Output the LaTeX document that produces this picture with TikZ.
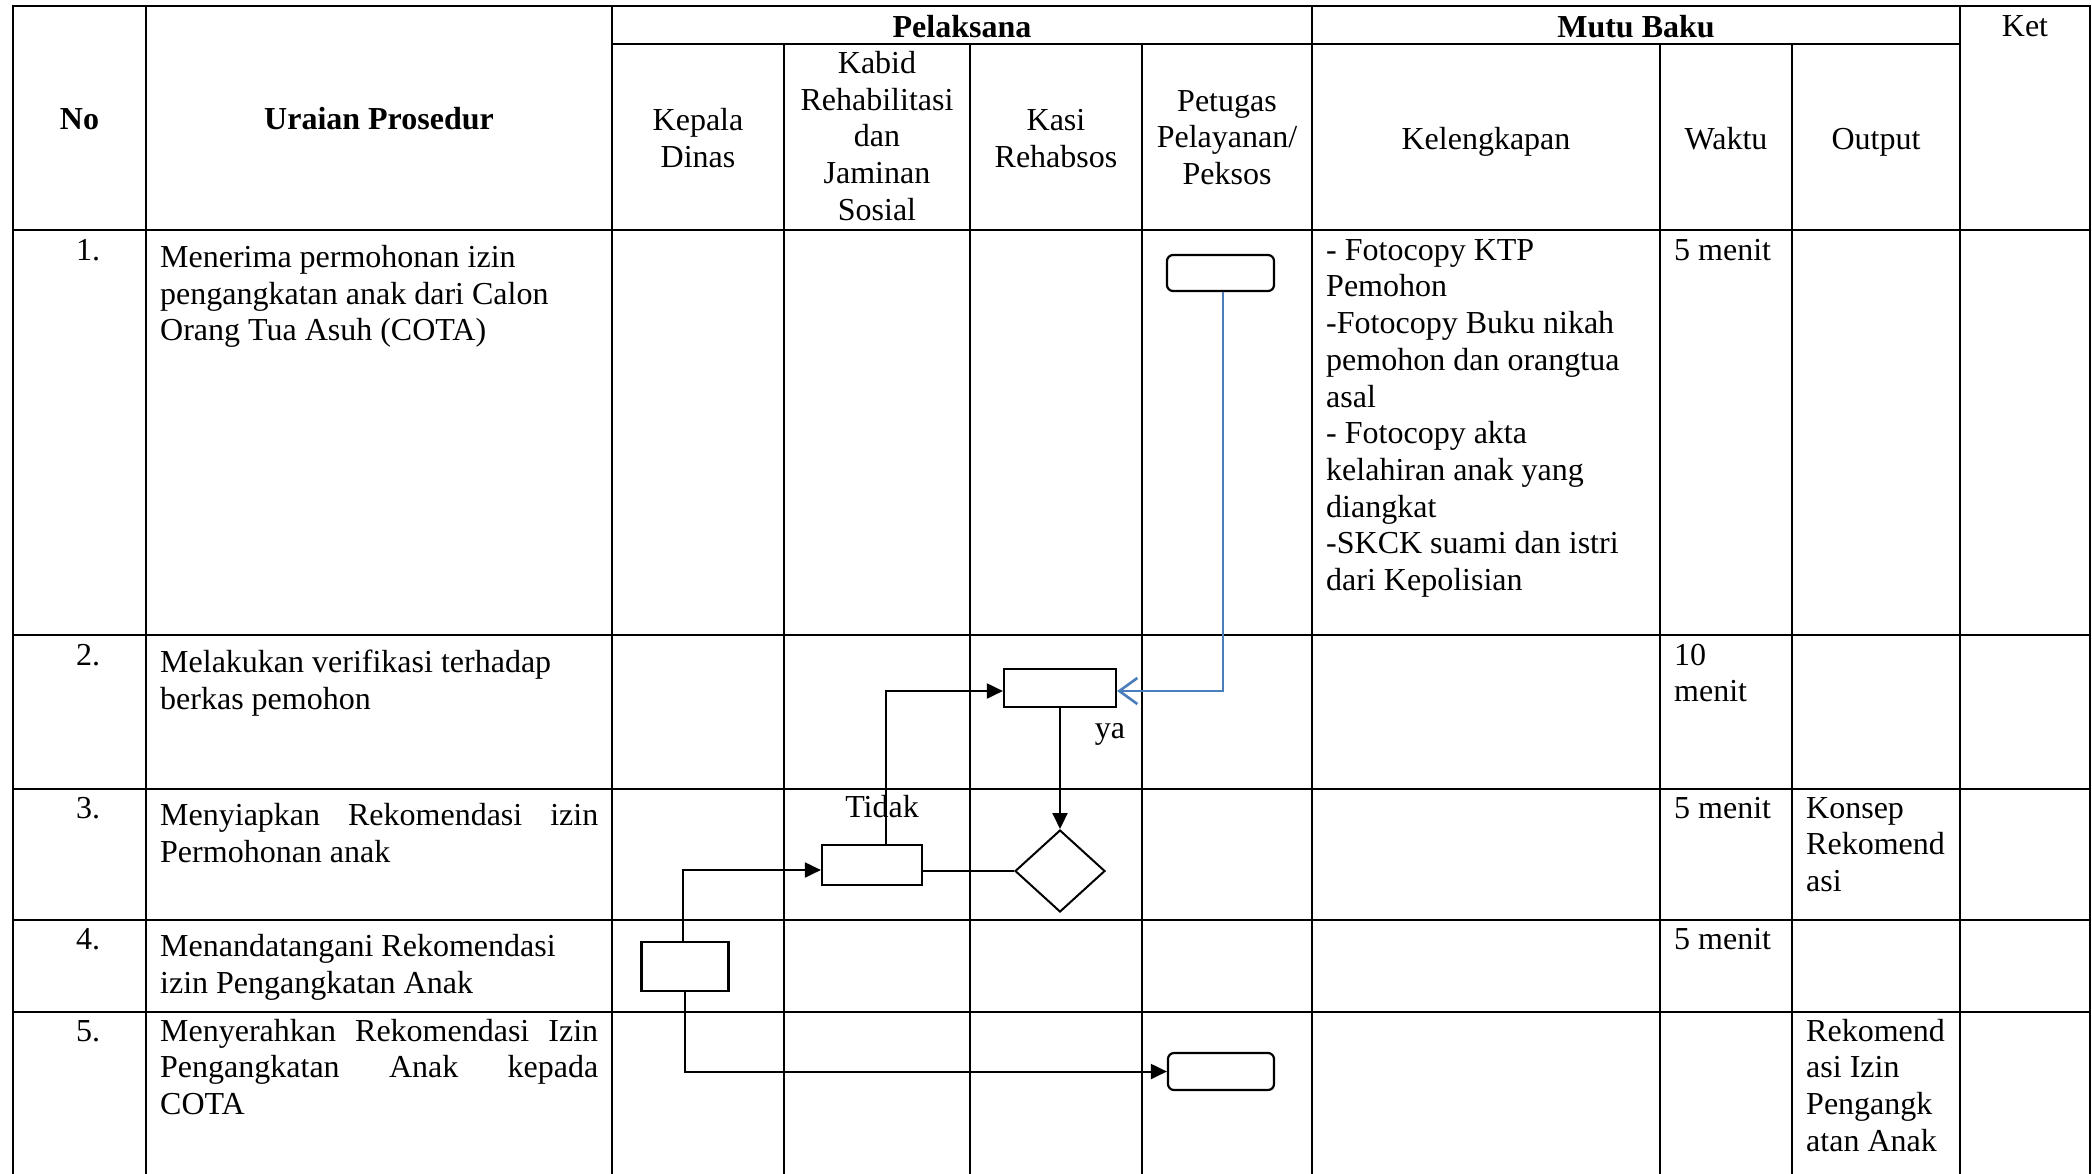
\documentclass[tikz,border=0pt]{standalone}
\usepackage{fontspec}
\setmainfont{Liberation Serif}
\usetikzlibrary{arrows.meta,shapes.geometric,calc}
\definecolor{flowblue}{HTML}{4A7EBB}
\begin{document}
\begin{tikzpicture}[x=1pt,y=-1pt,
  font=\fontsize{32}{36.7}\selectfont,
  grid/.style={line width=2.6pt, line cap=rect},
  hd/.style={inner sep=0pt, align=center},
  tx/.style={anchor=north west, inner sep=0pt, align=left},
  one/.style={anchor=base west, inner sep=0pt},
  lbl/.style={anchor=base, inner sep=0pt},
  procbox/.style={draw, line width=2.2pt, inner sep=0pt},
  rbox/.style={procbox, rounded corners=6pt},
  decbox/.style={draw, diamond, line width=2pt, inner sep=0pt},
  flow/.style={line width=2pt, -{Triangle[length=16pt,width=15pt]}},
  plainline/.style={line width=2pt},
  blueflow/.style={line width=2.6pt, draw=flowblue, -{Straight Barb[length=18pt,width=26pt]}}
]
\useasboundingbox (0,0) rectangle (2092,1173);
\fill[white] (0,0) rectangle (2092,1173);

% grid
\draw[grid] (13,6) -- (2090,6);
\draw[grid] (612,44) -- (1960,44);
\foreach \y in {230,635,789,920,1012} \draw[grid] (13,\y) -- (2090,\y);
\foreach \x in {13,146,612,1312,1960,2090} \draw[grid] (\x,6) -- (\x,1180);
\foreach \x in {784,970,1142,1660,1792} \draw[grid] (\x,44) -- (\x,1180);

% header
\node[hd] (hNo) at (79.5,122.5) {\strut\bfseries No};
\node[hd] (hUr) at (379,122.5) {\strut\bfseries Uraian Prosedur};
\node[lbl] (hPel) at (962,37) {\bfseries Pelaksana};
\node[lbl] (hMutu) at (1636,37) {\bfseries Mutu Baku};
\node[lbl] (hKet) at (2025,36) {Ket};
\node[hd] (hKep) at (698,142) {\strut Kepala\\Dinas\strut};
\node[hd] (hKab) at (877,139.5) {\strut Kabid\\Rehabilitasi\\dan\\Jaminan\\Sosial\strut};
\node[hd] (hKasi) at (1056,142) {\strut Kasi\\Rehabsos\strut};
\node[hd] (hPet) at (1227,140.5) {\strut Petugas\\Pelayanan/\\Peksos\strut};
\node[hd] (hKel) at (1486,142) {\strut Kelengkapan\strut};
\node[hd] (hWak) at (1726,142) {\strut Waktu\strut};
\node[hd] (hOut) at (1876,142) {\strut Output\strut};

% numbers
\node[one] (n1) at (76,260) {1.};
\node[one] (n2) at (76,665) {2.};
\node[one] (n3) at (76,818) {3.};
\node[one] (n4) at (76,949) {4.};
\node[one] (n5) at (76,1041) {5.};

% procedures
\node[tx] (u1) at (160,241.5) {\strut Menerima permohonan izin\\pengangkatan anak dari Calon\\Orang Tua Asuh (COTA)};
\node[tx] (u2) at (160,646.5) {\strut Melakukan verifikasi terhadap\\berkas pemohon};
\node[tx] (u3) at (160,799.5) {\strut\makebox[438pt][s]{Menyiapkan Rekomendasi izin}\\Permohonan anak};
\node[tx] (u4) at (160,930.5) {\strut Menandatangani Rekomendasi\\izin Pengangkatan Anak};
\node[tx] (u5) at (160,1015.3) {\strut\makebox[438pt][s]{Menyerahkan Rekomendasi Izin}\\\makebox[438pt][s]{Pengangkatan Anak kepada}\\COTA};

% kelengkapan
\node[tx] (kel1) at (1326,234.3) {\strut - Fotocopy KTP\\Pemohon\\-Fotocopy Buku nikah\\pemohon dan orangtua\\asal\\- Fotocopy akta\\kelahiran anak yang\\diangkat\\-SKCK suami dan istri\\dari Kepolisian};

% waktu
\node[one] (w1) at (1674,260) {5 menit};
\node[tx] (w2) at (1674,639.3) {\strut 10\\menit};
\node[one] (w3) at (1674,818) {5 menit};
\node[one] (w4) at (1674,949) {5 menit};

% output
\node[tx] (o3) at (1806,792.3) {\strut Konsep\\Rekomend\\asi};
\node[tx] (o5) at (1806,1015.3) {\strut Rekomend\\asi Izin\\Pengangk\\atan Anak};

% flow shapes
\node[rbox, minimum width=107pt, minimum height=36pt] (p1) at (1220.5,273) {};
\node[procbox, minimum width=112pt, minimum height=38pt] (k2) at (1060,688) {};
\node[decbox, minimum width=90pt, minimum height=82pt] (d3) at (1060,871) {};
\node[procbox, minimum width=100pt, minimum height=40pt] (b3) at (872,865) {};
\node[procbox, minimum width=87pt, minimum height=49pt] (r4) at (685,966.5) {};
\node[rbox, minimum width=106pt, minimum height=37pt] (p5) at (1221,1071.5) {};

% labels
\node[lbl] (ya) at (1110,738) {ya};
\node[lbl] (tidak) at (882,817) {Tidak};

% connectors
\draw[blueflow] ([xshift=2.5pt]p1.south) |- ([yshift=-3pt]k2.east);
\draw[flow] (k2.south) -- (d3.north);
\draw[plainline] (d3.west) -- (d3.west -| b3.east);
\draw[flow] ([xshift=14pt]b3.north) |- ([yshift=-3pt]k2.west);
\draw[flow] ([xshift=-2pt]r4.north) |- ([yshift=-5pt]b3.west);
\draw[flow] (r4.south) |- (p5.west);
\end{tikzpicture}
\end{document}
